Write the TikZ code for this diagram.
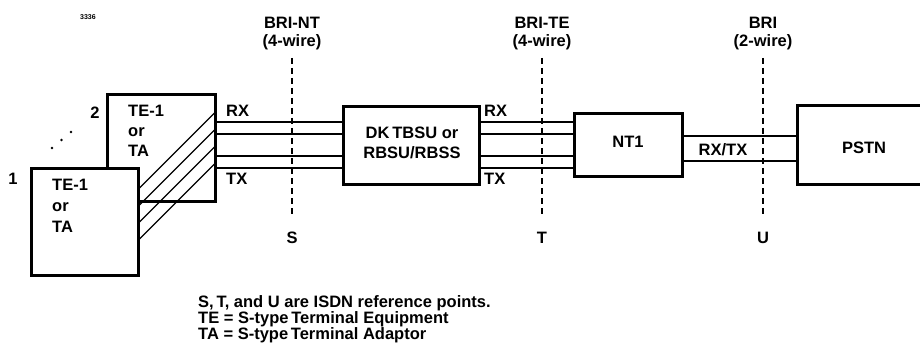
\documentclass[tikz,border=0pt]{standalone}
\usepackage{fontspec}
\setmainfont{Liberation Sans}
\begin{document}
\begin{tikzpicture}[x=1pt,y=-1pt,
  box/.style={draw, line width=3pt, fill=white, inner sep=0pt, outer sep=0pt, anchor=north west},
  wire/.style={line width=1.2pt},
  refline/.style={line width=1.1pt, dash pattern=on 6pt off 4pt},
  lbl/.style={font=\fontsize{16.5}{18}\selectfont\bfseries, inner sep=0pt, anchor=base},
  lblw/.style={lbl, anchor=base west},
  tiny/.style={font=\fontsize{7}{8}\selectfont\bfseries, inner sep=0pt}]
\useasboundingbox (0,0) rectangle (920,350);
\begin{scope}
\clip (0,0) rectangle (920,350);
% reference lines
\coordinate (sTop) at (292,58); \coordinate (sBot) at (292,217);
\coordinate (tTop) at (542,58); \coordinate (tBot) at (542,217);
\coordinate (uTop) at (763,58); \coordinate (uBot) at (763,217);
\draw[refline] (sTop) -- (sBot);
\draw[refline] (tTop) -- (tBot);
\draw[refline] (uTop) -- (uBot);
% boxes
\node[box, minimum width=108pt, minimum height=107pt] (b2) at (107.5,94.5) {};
\node[box, minimum width=136pt, minimum height=78pt] (dk) at (343.5,106.5) {};
\node[box, minimum width=108pt, minimum height=63pt] (nt) at (574.5,113.5) {};
\node[box, minimum width=150pt, minimum height=79pt] (pstn) at (797.5,105.5) {};
% diagonals
\foreach \d in {0,17,34,51} {
  \draw[wire] (138.5,189+\d) -- (b2.east |- 0,112+\d);
}
\node[box, minimum width=107pt, minimum height=107pt] (b1) at (31.5,168.5) {};
% 4-wire bundles
\foreach \yy in {122,134,156,168} {
  \draw[wire] (b2.east |- 0,\yy) -- (dk.west |- 0,\yy);
  \draw[wire] (dk.east |- 0,\yy) -- (nt.west |- 0,\yy);
}
% 2-wire
\foreach \yy in {136,161} {
  \draw[wire] (nt.east |- 0,\yy) -- (pstn.west |- 0,\yy);
}
\end{scope}
% texts
\node[tiny] (num) at (88,17) {3336};
\node[lbl] (briNT) at (292,29) {BRI-NT};
\node[lbl] (wNT) at (292,47) {(4-wire)};
\node[lbl] (briTE) at (542,29) {BRI-TE};
\node[lbl] (wTE) at (542,47) {(4-wire)};
\node[lbl] (bri) at (763,29) {BRI};
\node[lbl] (wU) at (763,47) {(2-wire)};
\node[lbl] (S) at (292,243) {S};
\node[lbl] (T) at (542,243) {T};
\node[lbl] (U) at (763,243) {U};
\node[lblw] (t2a) at (128,117) {TE-1};
\node[lblw] (t2b) at (128,136) {or};
\node[lblw] (t2c) at (128,156) {TA};
\node[lblw] (t1a) at (52,190) {TE-1};
\node[lblw] (t1b) at (52,211) {or};
\node[lblw] (t1c) at (52,232) {TA};
\node[lbl] (one) at (13,184) {1};
\node[lbl] (two) at (95,118) {2};
\foreach \p/\n in {{(52,148)}/d1,{(61.5,140)}/d2,{(71,132)}/d3} {
  \fill \p circle (1.3pt);
}
\node[lblw] (rx1) at (226,117) {RX};
\node[lblw] (tx1) at (226,184) {TX};
\node[lblw] (rx2) at (484,117) {RX};
\node[lblw] (tx2) at (484,184) {TX};
\node[lbl] (dka) at (412,139) {DK\,TBSU or};
\node[lbl] (dkb) at (412,158) {RBSU/RBSS};
\node[lbl] (ntl) at (628,147) {NT1};
\node[lbl] (rxtx) at (723,155) {RX/TX};
\node[lbl] (pstnl) at (864,153) {PSTN};
\node[lblw] (n1) at (198,307) {S,\,T, and U are ISDN reference points.};
\node[lblw] (n2) at (198,323) {TE = S-type\,Terminal Equipment};
\node[lblw] (n3) at (198,339) {TA = S-type\,Terminal Adaptor};
\end{tikzpicture}
\end{document}
